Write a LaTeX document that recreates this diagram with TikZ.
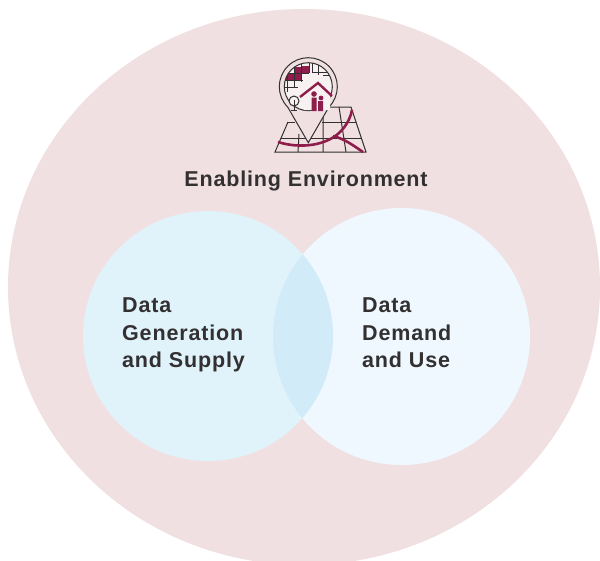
\documentclass[tikz,border=0pt]{standalone}
\usepackage{fontspec}
\setmainfont{Liberation Sans}[BoldFeatures={LetterSpace=3.9}]
\definecolor{outerc}{HTML}{F0E0E2}
\definecolor{leftc}{HTML}{E0F3FB}
\definecolor{rightc}{HTML}{EFF8FE}
\definecolor{lensc}{HTML}{D2EBF9}
\definecolor{maroon}{HTML}{8E1D4B}
\definecolor{ink}{HTML}{333031}
\tikzset{x=1pt,y=-1pt,
 lbl/.style={font=\bfseries\fontsize{21.5}{27.5}\selectfont,text=ink,align=left,anchor=north west,inner sep=0pt},
 ic/.style={draw=ink,line width=1pt},
 road/.style={draw=maroon,line width=2.6pt}}
\begin{document}
\begin{tikzpicture}
\useasboundingbox (0,0) rectangle (600,560);
\begin{scope}
\clip (0,0) rectangle (600,560);
\fill[outerc] (304,287) ellipse [x radius=296,y radius=278];
\end{scope}
\fill[rightc] (401.5,336.5) circle (128.5);
\fill[leftc] (208,336) circle (125);
\begin{scope}
\clip (208,336) circle (125);
\fill[lensc] (401.5,336.5) circle (128.5);
\end{scope}
% map
\draw[ic] (306,107) -- (351,107) -- (366,152) -- (275,152) -- (288,122);
\draw[ic] (281,138) -- (362,138) (287,122)--(295,122) (322,122)--(356,122);
\draw[ic] (299,134)--(298,152) (323,107)--(323,152) (339,107)--(346,152);
\draw[road] (278,142) .. controls (300,149) and (328,146) .. (342,130) .. controls (348,123) and (351,116) .. (352,110);
\draw[road] (333,136) .. controls (345,139) and (354,146) .. (363,152);
% pin
\path[fill=outerc] (308.3,142.7) -- (287.8,107.2) arc[start angle=135,end angle=405,radius=29] -- cycle;
\draw[ic] (308.3,142.7) -- (287.8,107.2) arc[start angle=135,end angle=405,radius=29] -- cycle;
\begin{scope}
\clip (308.3,86.7) circle (24);
\fill[white!55!outerc] (308.3,86.7) circle (24);
\fill[maroon] (285,73) rectangle (301,80) (294,67) rectangle (301,73) (301,66) rectangle (309,73);
\draw[ic] (283,73)--(309,73) (283,80)--(303,80) (283,87)--(298,87) (294,60)--(294,87) (301,60)--(301,82) (309,60)--(309,73) (287,73)--(287,92) (312,60)--(312,72) (318,60)--(318,75) (312,72)--(335,72) (323,75)--(335,75);
\end{scope}
\draw[ic] (308.3,86.7) circle (24);
\draw[ic,fill=white!55!outerc] (294,101) circle (5);
\draw[ic] (294,100)--(294,110) (291,110)--(297,110);
\fill[white!55!outerc] (304,92) -- (317,82) -- (330,92) -- (330,110) -- (304,110) -- cycle;
\draw[maroon,line width=2.4pt] (300,97) -- (318,83) -- (332,96);
\fill[maroon] (314,94) circle (2.8) (311.5,97.5) rectangle (316.5,111) (321,98) circle (2.4) (318,101) rectangle (323,111);
\node[font=\bfseries\fontsize{21.5}{24}\selectfont,text=ink,inner sep=0pt] (title) at (306,181) {Enabling Environment};
\node[lbl] (gen) at (122,298) {Data\\Generation\\and Supply};
\node[lbl] (dem) at (362,298) {Data\\Demand\\and Use};
\end{tikzpicture}
\end{document}
